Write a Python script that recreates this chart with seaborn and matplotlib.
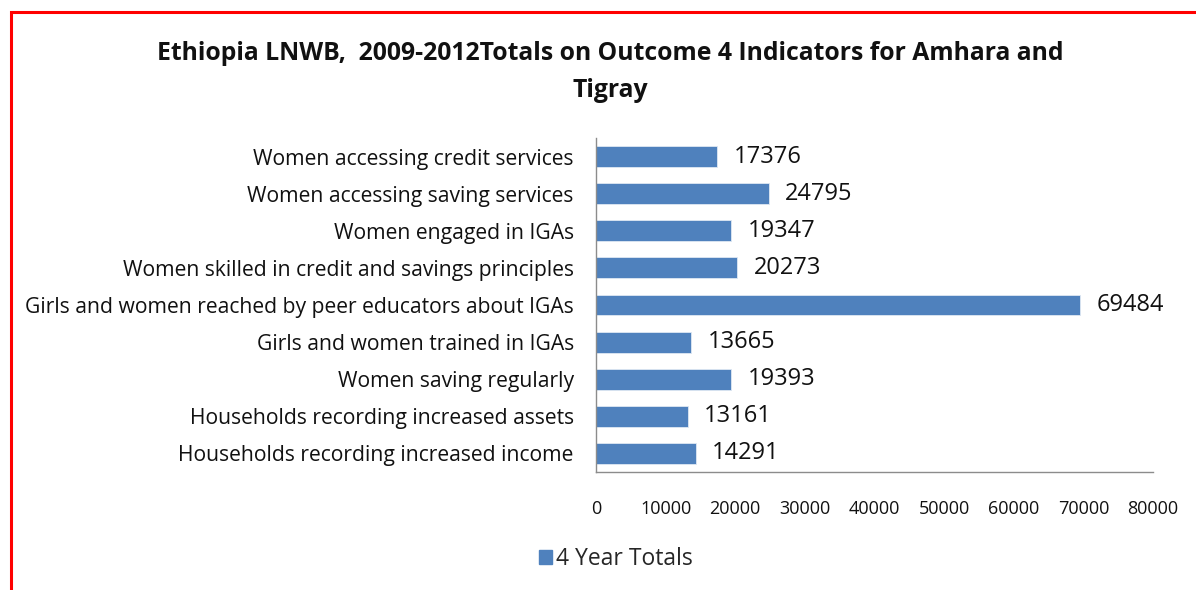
import matplotlib
matplotlib.use("Agg")
import matplotlib.pyplot as plt
import seaborn as sns
import pandas as pd
from matplotlib.patches import Rectangle

categories = [
    "Women accessing credit services",
    "Women accessing saving services",
    "Women engaged in IGAs",
    "Women skilled in credit and savings principles",
    "Girls and women reached by peer educators about IGAs",
    "Girls and women trained in IGAs",
    "Women saving regularly",
    "Households recording increased assets",
    "Households recording increased income",
]
values = [17376, 24795, 19347, 20273, 69484, 13665, 19393, 13161, 14291]
series_name = "4 Year Totals"
x_ticks = [0, 10000, 20000, 30000, 40000, 50000, 60000, 70000, 80000]
title = "Ethiopia LNWB,  2009-2012Totals on Outcome 4 Indicators for Amhara and\nTigray"

df = pd.DataFrame({"category": categories, "value": values, "series": series_name})

sns.set_theme(style="white")
plt.rcParams["font.family"] = ["Open Sans", "DejaVu Sans"]

fig = plt.figure(figsize=(11.96, 5.9), dpi=100)
ax = fig.add_axes([596 / 1196, 118 / 590, (1153 - 596) / 1196, (472 - 138) / 590])

bar_color = "#4f81bd"
sns.barplot(data=df, y="category", x="value", hue="series", orient="h",
            palette=[bar_color], saturation=1, width=0.56, ax=ax, legend=False,
            edgecolor="#dfe8f3", linewidth=0.6)

ax.set_xlim(0, 80000)
ax.set_xticks(x_ticks)
ax.set_xticklabels([str(t) for t in x_ticks], fontsize=13, color="#111111")
ax.set_xlabel("")
ax.set_ylabel("")
ax.tick_params(axis="x", length=0, pad=20)
ax.tick_params(axis="y", length=0, pad=16, labelsize=15.2, labelcolor="#111111")

for s in ["top", "right"]:
    ax.spines[s].set_visible(False)
for s in ["left", "bottom"]:
    ax.spines[s].set_color("#8c8c8c")
    ax.spines[s].set_linewidth(1.0)

for c in ax.containers:
    ax.bar_label(c, labels=[str(v) for v in values], padding=12, fontsize=17, color="#111111")

fig.text(0.51, 0.878, title, ha="center", va="center", fontsize=17.8, fontweight="bold",
         color="#111111", linespacing=1.6)

# legend
handle = Rectangle((0, 0), 1, 1, color=bar_color)
fig.legend([handle], [series_name], loc="center", bbox_to_anchor=(0.515, 1 - 559 / 590),
           frameon=False, fontsize=16.5, handlelength=0.55, handleheight=0.55, handletextpad=0.2)

# red chart border
fig.patches.append(Rectangle((11 / 1196, -0.1), 1.2, 1 - 12 / 590 + 0.1,
                             transform=fig.transFigure, fill=False,
                             edgecolor="#ff0000", linewidth=2.2, figure=fig))

fig.savefig("out.png", dpi=100)
